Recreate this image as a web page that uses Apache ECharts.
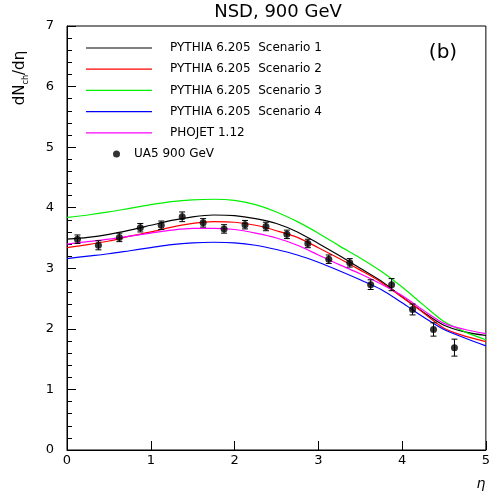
<!DOCTYPE html>
<html>
<head>
<meta charset="utf-8">
<script src="https://cdn.jsdelivr.net/npm/echarts@6/dist/echarts.min.js"></script>
<style>html,body{margin:0;padding:0;background:#fff;}#c{width:493px;height:496px;}</style>
</head>
<body>
<div id="c"></div>
<script>
const eta = [0,0.25,0.5,0.75,1.0,1.25,1.5,1.75,2.0,2.25,2.5,2.75,3.0,3.25,3.5,3.75,4.0,4.25,4.5,4.75,5.0];
const scenario1 = [3.48,3.51,3.56,3.63,3.71,3.79,3.85,3.88,3.87,3.82,3.74,3.60,3.41,3.21,3.00,2.79,2.53,2.28,2.06,1.95,1.89];
const scenario2 = [3.34,3.39,3.45,3.53,3.60,3.68,3.74,3.77,3.76,3.71,3.62,3.51,3.34,3.16,2.97,2.77,2.52,2.27,2.01,1.88,1.79];
const scenario3 = [3.84,3.88,3.93,3.99,4.05,4.10,4.13,4.14,4.12,4.05,3.93,3.77,3.58,3.37,3.17,2.95,2.69,2.40,2.12,1.95,1.82];
const scenario4 = [3.16,3.20,3.24,3.29,3.34,3.39,3.42,3.43,3.42,3.38,3.31,3.22,3.10,2.96,2.81,2.65,2.43,2.20,1.99,1.85,1.72];
const phojet    = [3.40,3.44,3.48,3.53,3.58,3.63,3.66,3.66,3.64,3.58,3.50,3.38,3.22,3.06,2.91,2.74,2.55,2.31,2.09,1.99,1.92];

const ua5Eta = [0.125,0.375,0.625,0.875,1.125,1.375,1.625,1.875,2.125,2.375,2.625,2.875,3.125,3.375,3.625,3.875,4.125,4.375,4.625];
const ua5Val = [3.48,3.38,3.51,3.67,3.71,3.85,3.75,3.65,3.72,3.69,3.56,3.41,3.15,3.09,2.73,2.73,2.32,1.99,1.69];
const ua5Err = [0.07,0.075,0.07,0.07,0.07,0.08,0.07,0.07,0.07,0.07,0.07,0.07,0.07,0.07,0.08,0.10,0.09,0.11,0.14];

const seriesNames = ['PYTHIA 6.205  Scenario 1','PYTHIA 6.205  Scenario 2','PYTHIA 6.205  Scenario 3','PYTHIA 6.205  Scenario 4','PHOJET 1.12'];
const seriesValues = [scenario1, scenario2, scenario3, scenario4, phojet];
const seriesColors = ['#000000','#ff0000','#00f000','#0000ff','#ff00ff'];
const yTicks = [0,1,2,3,4,5,6,7];
const xTicks = [0,1,2,3,4,5];

const FONT = 'DejaVu Sans';
const chart = echarts.init(document.getElementById('c'), null, {renderer:'canvas'});

const lineSeries = seriesNames.map((n, k) => ({
  name: n, type: 'line', smooth: 0.3, symbol: 'none', z: 2,
  data: eta.map((x, i) => [x, seriesValues[k][i]]),
  lineStyle: {color: seriesColors[k], width: 1.2},
  itemStyle: {color: seriesColors[k]}
}));

const errSeries = {
  type: 'custom', z: 3, silent: true,
  data: ua5Eta.map((x, i) => [x, ua5Val[i] - ua5Err[i], ua5Val[i] + ua5Err[i]]),
  renderItem: function (params, api) {
    const lo = api.coord([api.value(0), api.value(1)]);
    const hi = api.coord([api.value(0), api.value(2)]);
    const w = 3;
    const st = {stroke: '#000', lineWidth: 1};
    return {type: 'group', children: [
      {type: 'line', shape: {x1: lo[0], y1: lo[1], x2: hi[0], y2: hi[1]}, style: st},
      {type: 'line', shape: {x1: lo[0]-w, y1: lo[1], x2: lo[0]+w, y2: lo[1]}, style: st},
      {type: 'line', shape: {x1: hi[0]-w, y1: hi[1], x2: hi[0]+w, y2: hi[1]}, style: st}
    ]};
  }
};

const pointSeries = {
  name: 'UA5 900 GeV', type: 'scatter', z: 4, symbol: 'circle', symbolSize: 7,
  data: ua5Eta.map((x, i) => [x, ua5Val[i]]),
  itemStyle: {color: '#000'}
};

chart.setOption({
  animation: false,
  backgroundColor: '#fff',
  grid: {left: 67, right: 4, top: 26, bottom: 46, show: true, borderColor: '#000', borderWidth: 1, backgroundColor: 'transparent'},
  legend: [
    {data: seriesNames, orient: 'vertical', left: 86, top: 41, padding: 0, icon: 'rect', itemWidth: 66, itemHeight: 1.2, itemGap: 7.2,
     textStyle: {fontFamily: FONT, fontSize: 12, color: '#000', lineHeight: 14, padding: [0,0,0,13]},
     selectedMode: false},
    {data: [{name: 'UA5 900 GeV', icon: 'circle'}], orient: 'vertical', left: 113, top: 147, padding: 0, itemWidth: 7, itemHeight: 7,
     textStyle: {fontFamily: FONT, fontSize: 12, color: '#000', lineHeight: 14, padding: [0,0,0,9]},
     selectedMode: false}
  ],
  xAxis: {
    type: 'value', min: xTicks[0], max: xTicks[xTicks.length-1], interval: 1,
    axisLine: {show: true, lineStyle: {color: '#000', width: 1}},
    axisTick: {show: true, inside: true, length: 9, lineStyle: {color: '#000'}},
    axisLabel: {fontFamily: FONT, fontSize: 13, color: '#000', margin: 4},
    splitLine: {show: false}
  },
  yAxis: {
    type: 'value', min: yTicks[0], max: yTicks[yTicks.length-1], interval: 1,
    axisLine: {show: true, lineStyle: {color: '#000', width: 1}},
    axisTick: {show: true, inside: true, length: 9, lineStyle: {color: '#000'}},
    minorTick: {show: true, splitNumber: 5, length: 5, lineStyle: {color: '#000'}},
    axisLabel: {fontFamily: FONT, fontSize: 13, color: '#000', margin: 13},
    splitLine: {show: false}
  },
  graphic: [
    {type: 'text', x: 278, y: 12, style: {text: 'NSD, 900 GeV', font: '18px "DejaVu Sans"', fill: '#000', align: 'center', verticalAlign: 'middle'}, z: 10},
    {type: 'text', x: 443, y: 53, style: {text: '(b)', font: '20px "DejaVu Sans"', fill: '#000', align: 'center', verticalAlign: 'middle'}, z: 10},
    {type: 'text', x: 481, y: 484, style: {text: 'η', font: 'italic 14px "DejaVu Sans"', fill: '#000', align: 'center', verticalAlign: 'middle'}, z: 10},
    {type: 'text', x: 20, y: 78, rotation: Math.PI / 2,
     style: {text: 'dN{s|ch}/dη', font: '15px "DejaVu Sans"', fill: '#000', align: 'center', verticalAlign: 'middle',
       rich: {s: {fontSize: 8, fontFamily: FONT, verticalAlign: 'bottom', lineHeight: 20}}}, z: 10}
  ],
  series: lineSeries.concat([errSeries, pointSeries])
});
</script>
</body>
</html>
